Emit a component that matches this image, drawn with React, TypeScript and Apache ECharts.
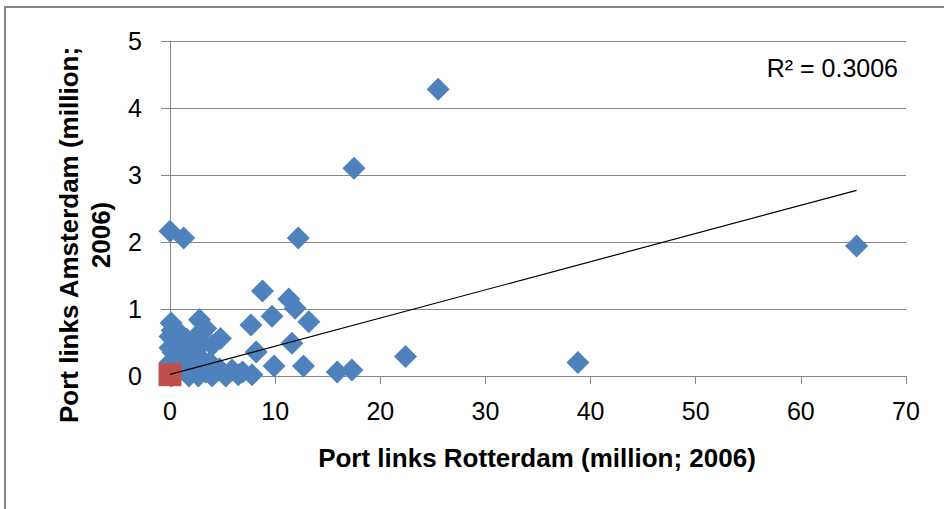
import React, { useEffect, useRef } from "react";
import * as echarts from "echarts";

const blueX = [25.5, 17.5, 65.3, 0.0, 1.3, 12.2, 8.8, 11.3, 11.9, 13.2, 9.7, 7.7, 11.6, 8.2, 9.9, 12.7, 15.9, 17.3, 22.4, 38.8, 0.1, 2.8, 3.4, 4.8, 0.0, 0.9, 0.0, 1.0, 2.1, 3.1, 4.0, 2.1, 0.6, 0.0, 3.4, 4.7, 5.9, 6.9, 7.8, 1.8, 2.7, 4.0, 5.3, 6.5, 0.4, 1.2, 0.1, 0.3, 0.8, 1.5, 1.6, 0.5, 1.2, 3.0, 2.5, 3.8, 0.2, 2.4, 1.4];
const blueY = [4.28, 3.10, 1.94, 2.16, 2.06, 2.06, 1.27, 1.15, 1.01, 0.81, 0.89, 0.76, 0.49, 0.36, 0.15, 0.15, 0.06, 0.09, 0.29, 0.20, 0.79, 0.84, 0.71, 0.56, 0.59, 0.64, 0.42, 0.46, 0.39, 0.49, 0.46, 0.21, 0.26, 0.20, 0.06, 0.11, 0.09, 0.06, 0.02, 0.0, 0.0, 0.0, 0.0, 0.02, 0.05, 0.12, 0.0, 0.35, 0.30, 0.25, 0.55, 0.50, 0.20, 0.25, 0.10, 0.20, 0.68, 0.58, 0.38];
const redX = [0.0];
const redY = [0.02];
const trendX = [0.0, 65.3];
const trendY = [0.025, 2.77];
const xTicks = { min: 0, max: 70, interval: 10 };
const yTicks = { min: 0, max: 5, interval: 1 };
const xTitle = "Port links Rotterdam (million; 2006)";
const yTitle = "Port links Amsterdam (million;\n2006)";
const r2Label = "R\u00B2 = 0.3006";

const FONT = "'Liberation Sans', Arial, sans-serif";
const GRAY = "#868686";

export default function App() {
  const ref = useRef<HTMLDivElement>(null);
  useEffect(() => {
    if (!ref.current) return;
    const chart = echarts.init(ref.current, null, { renderer: "svg" });
    chart.setOption({
      animation: false,
      backgroundColor: "#ffffff",
      grid: { left: 170, right: 38, top: 41, bottom: 133, containLabel: false },
      xAxis: {
        type: "value",
        min: xTicks.min,
        max: xTicks.max,
        interval: xTicks.interval,
        axisLine: { show: true, onZero: false, lineStyle: { color: GRAY, width: 1 } },
        axisTick: { show: true, length: 8, lineStyle: { color: GRAY } },
        splitLine: { show: false },
        axisLabel: { fontSize: 25, color: "#000", fontFamily: FONT, margin: 22 },
      },
      yAxis: {
        type: "value",
        min: yTicks.min,
        max: yTicks.max,
        interval: yTicks.interval,
        axisLine: { show: true, onZero: false, lineStyle: { color: GRAY, width: 1 } },
        axisTick: { show: true, length: 9, lineStyle: { color: GRAY } },
        splitLine: { show: true, lineStyle: { color: GRAY, width: 1 } },
        axisLabel: { fontSize: 25, color: "#000", fontFamily: FONT, margin: 28 },
      },
      graphic: [
        {
          type: "rect",
          shape: { x: 5, y: 7, width: 1100, height: 700 },
          style: { fill: "none", stroke: GRAY, lineWidth: 2 },
          silent: true,
          z: -10,
        },
        {
          type: "text",
          x: 537,
          y: 458,
          style: {
            text: xTitle,
            font: `bold 26px ${FONT}`,
            fill: "#000",
            align: "center",
            verticalAlign: "middle",
          },
        },
        {
          type: "text",
          x: 85,
          y: 235,
          rotation: Math.PI / 2,
          style: {
            text: yTitle,
            font: `bold 26px ${FONT}`,
            fill: "#000",
            align: "center",
            verticalAlign: "middle",
            lineHeight: 32,
          },
        },
        {
          type: "text",
          x: 898,
          y: 68,
          style: {
            text: r2Label,
            font: `25px ${FONT}`,
            fill: "#000",
            align: "right",
            verticalAlign: "middle",
          },
        },
      ],
      series: [
        {
          type: "scatter",
          symbol: "diamond",
          symbolSize: 23,
          itemStyle: { color: "#4F81BD", opacity: 1 },
          data: blueX.map((x, i) => [x, blueY[i]]),
          z: 2,
        },
        {
          type: "scatter",
          symbol: "rect",
          symbolSize: 23,
          itemStyle: { color: "#C0504D", opacity: 1 },
          data: redX.map((x, i) => [x, redY[i]]),
          z: 3,
        },
        {
          type: "line",
          data: trendX.map((x, i) => [x, trendY[i]]),
          symbol: "none",
          lineStyle: { color: "#000", width: 1.2 },
          z: 4,
        },
      ],
    });
    return () => chart.dispose();
  }, []);
  return (
    <div
      ref={ref}
      style={{ position: "fixed", left: 0, top: 0, width: 944, height: 509, background: "#fff" }}
    />
  );
}
